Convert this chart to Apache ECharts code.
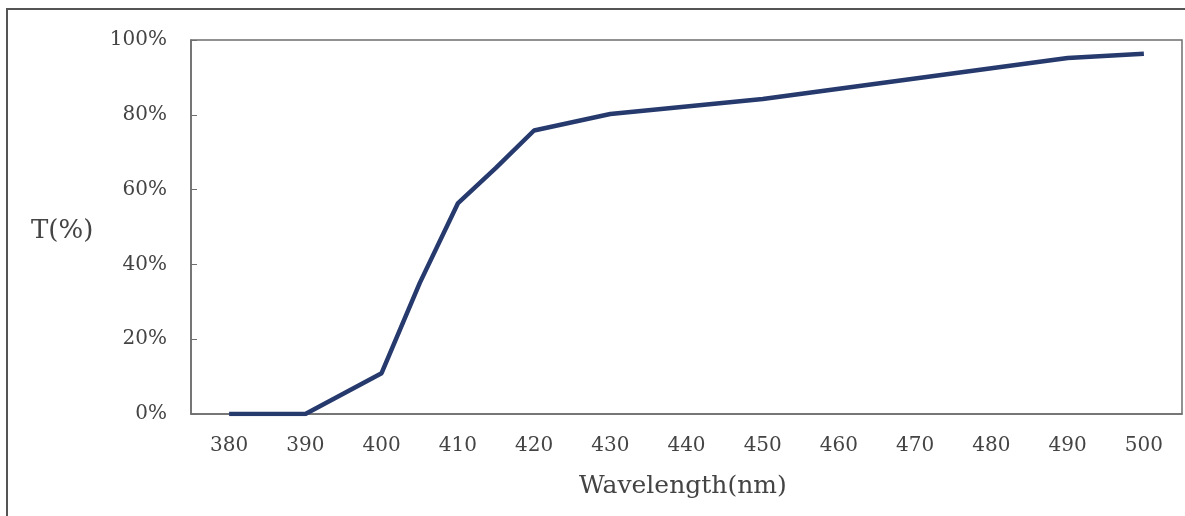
<!DOCTYPE html>
<html>
<head>
<meta charset="utf-8">
<script src="https://cdn.jsdelivr.net/npm/echarts@6/dist/echarts.min.js"></script>
<style>
html,body{margin:0;padding:0;background:#fff;}
#chart{width:1185px;height:516px;}
</style>
</head>
<body>
<div id="chart"></div>
<script>
// Tick labels of the category (wavelength) axis
const wavelengthLabels = ['380','390','400','410','420','430','440','450','460','470','480','490','500'];
// Measured curve: wavelength (nm) and transmittance (%)
const curveWavelength = [380, 390, 400, 405, 410, 415, 420, 430, 450, 490, 500];
const curveT = [0, 0, 10.9, 35.0, 56.3, 65.8, 75.8, 80.2, 84.2, 95.2, 96.3];
const yTicks = [0, 20, 40, 60, 80, 100];

const seriesData = curveWavelength.map((w, i) => [w, curveT[i]]);
const font = 'DejaVu Serif';

const chart = echarts.init(document.getElementById('chart'));
chart.setOption({
  animation: false,
  backgroundColor: '#fff',
  grid: {
    left: 191, top: 40, right: 3, bottom: 102,
    show: true, borderColor: '#6e6e6e', borderWidth: 1.5, containLabel: false
  },
  xAxis: [
    {
      type: 'category',
      data: wavelengthLabels,
      boundaryGap: true,
      axisLine: { lineStyle: { color: '#6e6e6e', width: 1.5 } },
      axisTick: { inside: true, length: 6, lineStyle: { color: '#6e6e6e' } },
      axisLabel: { margin: 22, fontFamily: font, fontSize: 20, color: '#444' },
      splitLine: { show: false }
    },
    {
      type: 'value',
      min: 375, max: 505,
      show: false,
      splitLine: { show: false }
    }
  ],
  yAxis: {
    type: 'value',
    min: yTicks[0], max: yTicks[yTicks.length - 1], interval: 20,
    axisLine: { show: true, lineStyle: { color: '#6e6e6e', width: 1.5 } },
    axisTick: { show: true, inside: true, length: 6, lineStyle: { color: '#6e6e6e' } },
    axisLabel: { margin: 24, fontFamily: font, fontSize: 20, color: '#444', formatter: '{value}%' },
    splitLine: { show: false }
  },
  series: [{
    type: 'line',
    xAxisIndex: 1,
    data: seriesData,
    symbol: 'none',
    smooth: false,
    lineStyle: { color: '#263a6e', width: 4.5 }
  }],
  graphic: [
    {
      type: 'rect',
      shape: { x: 7, y: 9, width: 1300, height: 700 },
      style: { fill: 'none', stroke: '#555', lineWidth: 2 },
      silent: true, z: -1
    },
    {
      type: 'text',
      left: 31, top: 218,
      style: { text: 'T(%)', font: '26px "DejaVu Serif"', fill: '#444' }
    },
    {
      type: 'text',
      left: 579, top: 474,
      style: { text: 'Wavelength(nm)', font: '25px "DejaVu Serif"', fill: '#444' }
    }
  ]
});
</script>
</body>
</html>
